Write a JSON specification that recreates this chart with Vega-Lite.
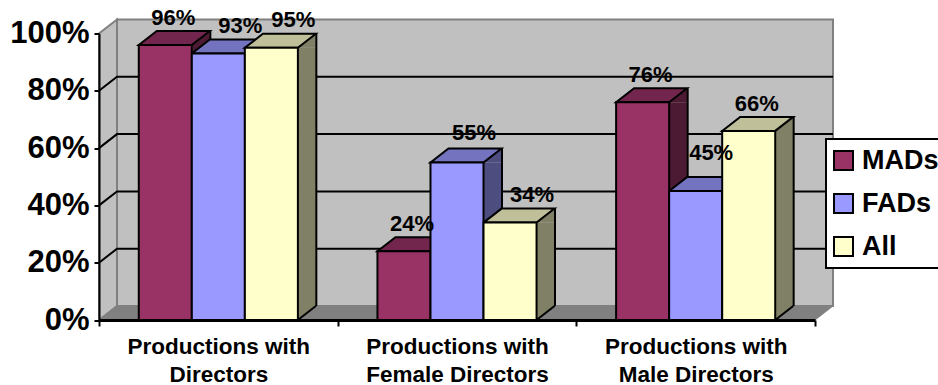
{
  "$schema": "https://vega.github.io/schema/vega-lite/v6.json",
  "width": 716,
  "height": 286.5,
  "autosize": "none",
  "padding": {"left": 99, "top": 33.5, "right": 123, "bottom": 65},
  "background": "white",
  "config": {
    "font": "Liberation Sans",
    "view": {"stroke": null},
    "legend": {"strokeWidth": 2}
  },
  "datasets": {
    "bars": [
      {"group": "Productions with Directors", "series": "MADs", "share": 0.96},
      {"group": "Productions with Directors", "series": "FADs", "share": 0.93},
      {"group": "Productions with Directors", "series": "All", "share": 0.95},
      {"group": "Productions with Female Directors", "series": "MADs", "share": 0.24},
      {"group": "Productions with Female Directors", "series": "FADs", "share": 0.55},
      {"group": "Productions with Female Directors", "series": "All", "share": 0.34},
      {"group": "Productions with Male Directors", "series": "MADs", "share": 0.76},
      {"group": "Productions with Male Directors", "series": "FADs", "share": 0.45},
      {"group": "Productions with Male Directors", "series": "All", "share": 0.66}
    ],
    "grid": [
      {"group": "Productions with Directors", "share": 0.2},
      {"group": "Productions with Directors", "share": 0.4},
      {"group": "Productions with Directors", "share": 0.6},
      {"group": "Productions with Directors", "share": 0.8}
    ],
    "frame": [
      {"group": "Productions with Directors", "low": 0}
    ]
  },
  "layer": [
    {
      "description": "back wall",
      "data": {"name": "frame"},
      "mark": {"type": "point", "shape": "M18,-14L734,-14L734,-300.5L18,-300.5Z", "size": 4, "filled": true, "fill": "#C0C0C0", "stroke": "#808080", "strokeWidth": 2, "opacity": 1},
      "encoding": {
        "x": {"field": "group", "type": "nominal", "bandPosition": 0, "scale": {"type": "band", "paddingInner": 0, "paddingOuter": 0}, "axis": null},
        "y": {"field": "low", "type": "quantitative", "scale": {"domain": [0, 1]}, "axis": null}
      }
    },
    {
      "description": "left wall",
      "data": {"name": "frame"},
      "mark": {"type": "point", "shape": "M0,0L18,-14L18,-300.5L0,-286.5Z", "size": 4, "filled": true, "fill": "#C0C0C0", "stroke": "#808080", "strokeWidth": 2, "opacity": 1},
      "encoding": {
        "x": {"field": "group", "type": "nominal", "bandPosition": 0, "axis": null},
        "y": {"field": "low", "type": "quantitative", "axis": null}
      }
    },
    {
      "description": "floor",
      "data": {"name": "frame"},
      "mark": {"type": "point", "shape": "M0,0L18,-14L734,-14L716,0Z", "size": 4, "filled": true, "fill": "#808080", "stroke": "#808080", "strokeWidth": 1, "opacity": 1},
      "encoding": {
        "x": {"field": "group", "type": "nominal", "bandPosition": 0, "axis": null},
        "y": {"field": "low", "type": "quantitative", "axis": null}
      }
    },
    {
      "description": "gridlines running across the left wall and the back wall",
      "data": {"name": "grid"},
      "mark": {"type": "point", "shape": "M0,0L18,-14L734,-14", "size": 4, "filled": false, "stroke": "black", "strokeWidth": 2, "opacity": 1},
      "encoding": {
        "x": {"field": "group", "type": "nominal", "bandPosition": 0, "axis": null},
        "y": {"field": "share", "type": "quantitative", "axis": null}
      }
    },
    {
      "description": "side faces, main strip; a slot scale of its own moves each strip beside its bar",
      "data": {"name": "bars"},
      "mark": {"type": "bar", "width": 18},
      "encoding": {
        "x": {"field": "group", "type": "nominal", "axis": null},
        "xOffset": {"field": "series", "type": "nominal", "scale": {"type": "band", "domain": ["MADs", "FADs", "All"], "range": [75.83, 234.83], "paddingInner": 0, "paddingOuter": 0}},
        "y": {"field": "share", "type": "quantitative", "axis": null},
        "y2": {"datum": 0.0489},
        "color": {"field": "series", "type": "nominal", "legend": null, "scale": {"domain": ["MADs", "FADs", "All"], "range": ["#4D1A33", "#4D4D80", "#808066"]}}
      }
    },
    {
      "description": "side faces, lower corner",
      "data": {"name": "bars"},
      "mark": {"type": "point", "shape": "M26.5,0L44.5,-14L26.5,-14Z", "size": 4, "filled": true, "opacity": 1, "strokeWidth": 0},
      "encoding": {
        "x": {"field": "group", "type": "nominal", "axis": null},
        "xOffset": {"field": "series", "type": "nominal", "scale": {"type": "band", "domain": ["MADs", "FADs", "All"], "paddingInner": 0, "paddingOuter": 0.75}},
        "y": {"datum": 0, "axis": null},
        "color": {"field": "series", "type": "nominal", "legend": null, "scale": {"domain": ["MADs", "FADs", "All"], "range": ["#4D1A33", "#4D4D80", "#808066"]}}
      }
    },
    {
      "description": "side faces, upper corner",
      "data": {"name": "bars"},
      "mark": {"type": "point", "shape": "M26.5,0L44.5,-14L44.5,0Z", "size": 4, "filled": true, "opacity": 1, "strokeWidth": 0},
      "encoding": {
        "x": {"field": "group", "type": "nominal", "axis": null},
        "xOffset": {"field": "series", "type": "nominal", "scale": {"type": "band", "domain": ["MADs", "FADs", "All"], "paddingInner": 0, "paddingOuter": 0.75}},
        "y": {"field": "share", "type": "quantitative", "axis": null},
        "color": {"field": "series", "type": "nominal", "legend": null, "scale": {"domain": ["MADs", "FADs", "All"], "range": ["#4D1A33", "#4D4D80", "#808066"]}}
      }
    },
    {
      "description": "outer vertical edge of each side face",
      "data": {"name": "bars"},
      "mark": {"type": "rule", "stroke": "black", "strokeWidth": 2, "yOffset": -14},
      "encoding": {
        "x": {"field": "group", "type": "nominal", "axis": null},
        "xOffset": {"field": "series", "type": "nominal", "scale": {"type": "band", "domain": ["MADs", "FADs", "All"], "range": [84.83, 243.83], "paddingInner": 0, "paddingOuter": 0}},
        "y": {"field": "share", "type": "quantitative", "axis": null},
        "y2": {"datum": 0.0489}
      }
    },
    {
      "description": "bottom slanted edge of each side face",
      "data": {"name": "bars"},
      "mark": {"type": "point", "shape": "M26.5,0L44.5,-14", "size": 4, "filled": false, "stroke": "black", "strokeWidth": 2, "opacity": 1},
      "encoding": {
        "x": {"field": "group", "type": "nominal", "axis": null},
        "xOffset": {"field": "series", "type": "nominal", "scale": {"type": "band", "domain": ["MADs", "FADs", "All"], "paddingInner": 0, "paddingOuter": 0.75}},
        "y": {"datum": 0, "axis": null}
      }
    },
    {
      "description": "top faces",
      "data": {"name": "bars"},
      "mark": {"type": "point", "shape": "M-26.5,0L26.5,0L44.5,-14L-8.5,-14Z", "size": 4, "filled": true, "stroke": "black", "strokeWidth": 2, "opacity": 1},
      "encoding": {
        "x": {"field": "group", "type": "nominal", "axis": null},
        "xOffset": {"field": "series", "type": "nominal", "scale": {"type": "band", "domain": ["MADs", "FADs", "All"], "paddingInner": 0, "paddingOuter": 0.75}},
        "y": {"field": "share", "type": "quantitative", "axis": null},
        "color": {"field": "series", "type": "nominal", "legend": null, "scale": {"domain": ["MADs", "FADs", "All"], "range": ["#73264D", "#7373BF", "#BFBF99"]}}
      }
    },
    {
      "description": "front faces, with the axes and the legend",
      "data": {"name": "bars"},
      "mark": {"type": "bar", "stroke": "black", "strokeWidth": 2},
      "encoding": {
        "x": {
          "field": "group",
          "type": "nominal",
          "title": null,
          "axis": {
            "zindex": 1,
            "labelAngle": 0,
            "labelFontSize": 22.5,
            "labelFontWeight": "bold",
            "labelColor": "black",
            "labelLimit": 400,
            "labelLineHeight": 28,
            "labelPadding": 9,
            "labelExpr": "split(replace(datum.label, 'with ', 'with|'), '|')",
            "tickBand": "extent",
            "tickColor": "black",
            "tickWidth": 2,
            "tickSize": 6,
            "domainColor": "black",
            "domainWidth": 3
          }
        },
        "xOffset": {"field": "series", "type": "nominal", "scale": {"type": "band", "domain": ["MADs", "FADs", "All"], "paddingInner": 0, "paddingOuter": 0.75}},
        "y": {
          "field": "share",
          "type": "quantitative",
          "title": null,
          "axis": {
            "zindex": 1,
            "format": ".0%",
            "values": [0, 0.2, 0.4, 0.6, 0.8, 1],
            "grid": false,
            "labelFontSize": 31,
            "labelFontWeight": "bold",
            "labelColor": "black",
            "labelPadding": 5,
            "tickColor": "black",
            "tickWidth": 2,
            "tickSize": 5,
            "domainColor": "black",
            "domainWidth": 2
          }
        },
        "y2": {"datum": 0},
        "color": {
          "field": "series",
          "type": "nominal",
          "scale": {"domain": ["MADs", "FADs", "All"], "range": ["#993366", "#9999FF", "#FFFFCC"]},
          "legend": {
            "title": null,
            "orient": "none",
            "legendX": 727,
            "legendY": 105.5,
            "padding": 8,
            "fillColor": "white",
            "strokeColor": "black",
            "symbolType": "square",
            "symbolSize": 361,
            "symbolStrokeColor": "black",
            "symbolStrokeWidth": 2,
            "symbolOpacity": 1,
            "symbolOffset": -4,
            "labelFontSize": 27,
            "labelFontWeight": "bold",
            "labelColor": "black",
            "labelOffset": 5,
            "labelLimit": 200,
            "rowPadding": 15
          }
        }
      }
    },
    {
      "description": "value labels, first group of offsets",
      "data": {"name": "bars"},
      "transform": [{"filter": "datum.series === 'MADs' || datum.share === 0.66"}],
      "mark": {"type": "text", "fontSize": 22, "fontWeight": "bold", "fill": "black", "align": "center", "baseline": "alphabetic", "dx": 8, "dy": -20},
      "encoding": {
        "x": {"field": "group", "type": "nominal", "axis": null},
        "xOffset": {"field": "series", "type": "nominal", "scale": {"type": "band", "domain": ["MADs", "FADs", "All"], "paddingInner": 0, "paddingOuter": 0.75}},
        "y": {"field": "share", "type": "quantitative", "axis": null},
        "text": {"field": "share", "type": "quantitative", "format": ".0%"}
      }
    },
    {
      "description": "value labels, second group of offsets",
      "data": {"name": "bars"},
      "transform": [{"filter": "datum.share === 0.93 || datum.share === 0.95 || datum.share === 0.34"}],
      "mark": {"type": "text", "fontSize": 22, "fontWeight": "bold", "fill": "black", "align": "center", "baseline": "alphabetic", "dx": 22, "dy": -20.5},
      "encoding": {
        "x": {"field": "group", "type": "nominal", "axis": null},
        "xOffset": {"field": "series", "type": "nominal", "scale": {"type": "band", "domain": ["MADs", "FADs", "All"], "paddingInner": 0, "paddingOuter": 0.75}},
        "y": {"field": "share", "type": "quantitative", "axis": null},
        "text": {"field": "share", "type": "quantitative", "format": ".0%"}
      }
    },
    {
      "description": "value label for the tallest FADs bar of the middle group",
      "data": {"name": "bars"},
      "transform": [{"filter": "datum.share === 0.55"}],
      "mark": {"type": "text", "fontSize": 22, "fontWeight": "bold", "fill": "black", "align": "center", "baseline": "alphabetic", "dx": 17, "dy": -22},
      "encoding": {
        "x": {"field": "group", "type": "nominal", "axis": null},
        "xOffset": {"field": "series", "type": "nominal", "scale": {"type": "band", "domain": ["MADs", "FADs", "All"], "paddingInner": 0, "paddingOuter": 0.75}},
        "y": {"field": "share", "type": "quantitative", "axis": null},
        "text": {"field": "share", "type": "quantitative", "format": ".0%"}
      }
    },
    {
      "description": "value label that sits above the hidden FADs top",
      "data": {"name": "bars"},
      "transform": [{"filter": "datum.share === 0.45"}],
      "mark": {"type": "text", "fontSize": 22, "fontWeight": "bold", "fill": "black", "align": "center", "baseline": "alphabetic", "dx": 15.5, "dy": -31},
      "encoding": {
        "x": {"field": "group", "type": "nominal", "axis": null},
        "xOffset": {"field": "series", "type": "nominal", "scale": {"type": "band", "domain": ["MADs", "FADs", "All"], "paddingInner": 0, "paddingOuter": 0.75}},
        "y": {"field": "share", "type": "quantitative", "axis": null},
        "text": {"field": "share", "type": "quantitative", "format": ".0%"}
      }
    }
  ],
  "resolve": {
    "scale": {"color": "independent", "xOffset": "independent"},
    "axis": {"x": "independent", "y": "independent"}
  }
}
